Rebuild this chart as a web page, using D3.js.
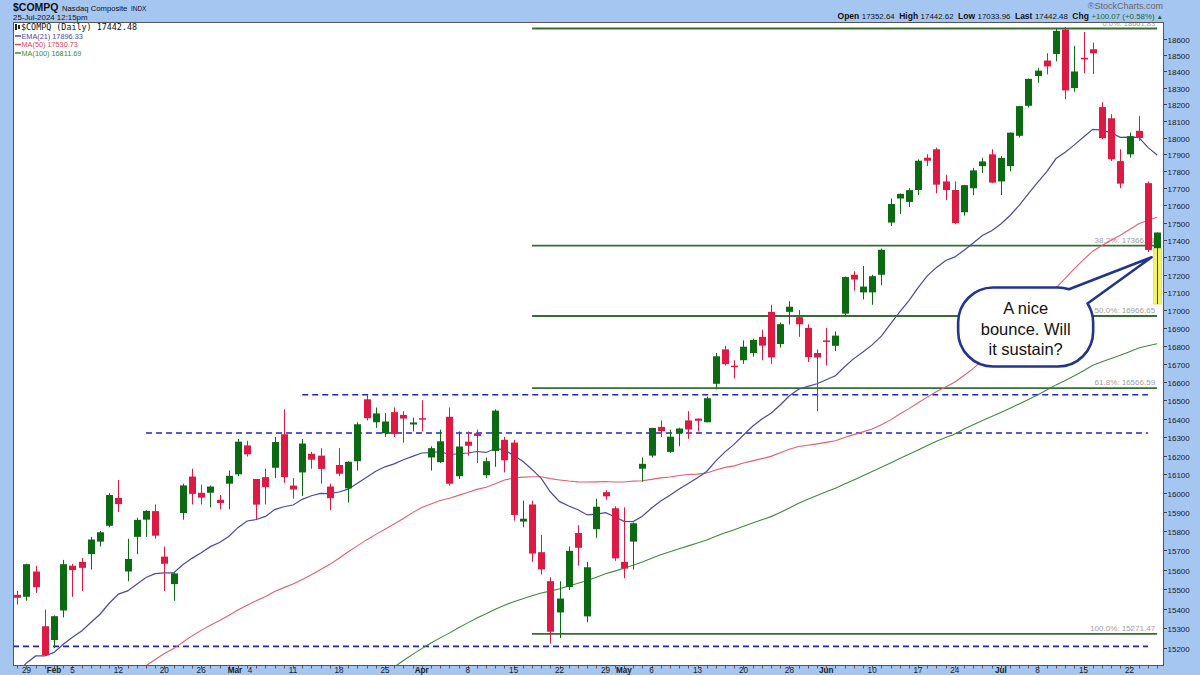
<!DOCTYPE html>
<html><head><meta charset="utf-8">
<script src="https://cdn.jsdelivr.net/npm/d3@7"></script>
<style>
html,body{margin:0;padding:0;background:#a6c6f2;}
svg{display:block;font-family:"Liberation Sans",Arial,sans-serif;}
</style></head><body>
<svg id="c" width="1200" height="675"></svg>
<script>
// ---------------- DATA ----------------
const dates = ["01-26","01-29","01-30","01-31",
"02-01","02-02","02-05","02-06","02-07","02-08","02-09","02-12","02-13","02-14","02-15","02-16","02-20","02-21","02-22","02-23","02-26","02-27","02-28","02-29",
"03-01","03-04","03-05","03-06","03-07","03-08","03-11","03-12","03-13","03-14","03-15","03-18","03-19","03-20","03-21","03-22","03-25","03-26","03-27","03-28",
"04-01","04-02","04-03","04-04","04-05","04-08","04-09","04-10","04-11","04-12","04-15","04-16","04-17","04-18","04-19","04-22","04-23","04-24","04-25","04-26","04-29","04-30",
"05-01","05-02","05-03","05-06","05-07","05-08","05-09","05-10","05-13","05-14","05-15","05-16","05-17","05-20","05-21","05-22","05-23","05-24","05-28","05-29","05-30","05-31",
"06-03","06-04","06-05","06-06","06-07","06-10","06-11","06-12","06-13","06-14","06-17","06-18","06-20","06-21","06-24","06-25","06-26","06-27","06-28",
"07-01","07-02","07-03","07-05","07-08","07-09","07-10","07-11","07-12","07-15","07-16","07-17","07-18","07-19","07-22","07-23","07-24","07-25"];

const openP = [15470,15460,15590,15310,
15240,15390,15620,15640,15680,15745,15828,15975,15590,15770,15860,15905,15667,15525,15895,16088,16002,16002,15965,16050,
16100,16255,16075,16085,16135,16315,16040,16110,16210,16200,16035,16150,16025,16170,16505,16380,16320,16435,16420,16368,
16402,16190,16165,16410,16090,16275,16320,16095,16225,16285,16270,15850,15940,15690,15540,15380,15510,15790,15360,15810,16005,15920,
15640,15745,16130,16200,16355,16220,16320,16390,16400,16380,16590,16780,16690,16720,16760,16850,16990,16810,16990,16960,16900,16760,
16830,16800,16980,17200,17100,17100,17200,17500,17640,17620,17690,17880,17930,17740,17690,17560,17700,17830,17900,
17740,17830,18010,18190,18370,18465,18505,18655,18297,18482,18534,18182,18115,17860,17900,18040,17730,17352.64];
const highP = [15490,15630,15620,15395,
15365,15650,15630,15660,15770,15800,16000,16070,15760,15870,15910,15940,15720,15585,16050,16130,16045,16040,15990,16120,
16290,16280,16075,16130,16300,16450,16080,16290,16220,16240,16050,16240,16170,16380,16530,16460,16430,16460,16440,16405,
16500,16250,16340,16460,16330,16330,16340,16190,16450,16300,16285,15960,15960,15780,15560,15540,15720,15830,15640,15970,16015,15930,
15925,15845,16190,16350,16390,16340,16350,16440,16400,16520,16760,16800,16720,16830,16840,16890,17030,16930,17050,17000,16920,16780,
16900,16880,17190,17220,17250,17200,17350,17640,17670,17700,17870,17900,17940,17780,17740,17720,17820,17880,17930,
17890,18030,18190,18355,18420,18510,18660,18671,18555,18640,18575,18212,18140,17930,18030,18130,17740,17442.62];
const lowP = [15420,15440,15480,15160,
15200,15355,15460,15490,15600,15720,15820,15900,15540,15680,15770,15760,15490,15440,15860,15940,15940,15925,15915,15915,
16090,16195,15860,15940,16080,16055,15970,15985,16130,16050,15910,16090,15950,16120,16390,16350,16300,16300,16270,16330,
16330,16120,16160,16040,16075,16200,16160,16080,16140,16110,15855,15820,15640,15575,15222,15250,15495,15620,15330,15765,15965,15645,
15555,15600,16060,16190,16300,16215,16250,16290,16330,16380,16560,16690,16620,16700,16740,16720,16700,16790,16920,16850,16710,16440,
16690,16770,16970,17110,17060,17030,17140,17480,17550,17590,17660,17830,17670,17630,17490,17540,17660,17790,17730,
17660,17800,18000,18180,18330,18380,18460,18230,18275,18387,18382,17990,17860,17700,17880,17980,17330,17033.96];
const closeP = [15455,15628,15509,15164,
15361,15628,15597,15609,15756,15794,15990,15942,15655,15859,15906,15776,15630,15580,16041,15996,15976,16035,15948,16092,
16275,16207,15939,16032,16273,16085,16019,16265,16178,16129,15973,16103,16167,16369,16402,16428,16384,16316,16400,16379,
16397,16240,16277,16050,16249,16253,16306,16170,16443,16175,15885,15865,15683,15601,15282,15451,15697,15713,15612,15928,15983,15658,
15605,15841,16156,16349,16332,16302,16346,16341,16388,16511,16742,16698,16686,16795,16833,16801,16736,16921,17019,16920,16737,16735,
16828,16857,17187,17173,17133,17192,17343,17608,17667,17689,17862,17862,17721,17689,17497,17718,17805,17858,17733,
17879,18029,18188,18353,18403,18429,18647,18283,18398,18472,18509,17996,17871,17727,18008,17997,17342,17442.48];

// EMA(21), from 01-26
const ema21 = [15075,15125,15160,15160,15178,15219,15254,15286,15329,15371,15427,15474,15490,15524,15559,15579,15583,15583,15625,15658,15687,15719,15740,15772,
15818,15853,15861,15877,15913,15928,15937,15967,15986,15999,15997,16006,16021,16053,16084,16116,16140,16156,16178,16196,
16214,16216,16222,16206,16210,16214,16222,16217,16238,16232,16200,16170,16126,16078,16006,15955,15932,15912,15885,15889,15897,15875,
15851,15850,15878,15921,15958,15989,16022,16051,16082,16115,16172,16220,16262,16311,16358,16398,16429,16474,16524,16560,16576,16590,
16612,16634,16684,16729,16766,16805,16854,16922,16990,17053,17127,17194,17242,17282,17302,17340,17382,17425,17453,
17492,17541,17600,17668,17735,17798,17875,17912,17956,18003,18049,18044,18028,18001,18002,18001,17941,17896.33];
// MA(50), from 02-15
const ma50Start = "02-15";
const ma50 = [15111,15142,15172,15197,15229,15261,15289,15315,15339,15365,
15392,15417,15440,15462,15487,15507,15526,15549,15573,15600,15627,15659,15692,15723,15754,15783,15810,15837,15866,15897,
15924,15942,15961,15973,15988,16003,16020,16031,16050,16070,16080,16085,16087,16087,16077,16070,16064,16060,16059,16060,16062,16059,
16059,16064,16066,16073,16081,16086,16094,16099,16101,16107,16123,16137,16145,16160,16172,16184,16196,16215,16234,16249,16256,16263,
16271,16280,16298,16313,16328,16344,16366,16393,16425,16454,16486,16517,16548,16573,16600,16636,16675,16719,16761,
16813,16865,16915,16967,17023,17073,17126,17179,17235,17287,17335,17367,17398,17427,17460,17493,17512,17530.73];
// MA(100), from 03-26
const ma100Start = "03-26";
const ma100 = [15104,15137,15168,
15197,15225,15251,15275,15302,15327,15352,15373,15396,15417,15435,15450,15465,15479,15489,15501,15515,15530,15544,15560,15578,15592,
15607,15622,15639,15659,15677,15692,15708,15723,15738,15754,15773,15791,15807,15825,15842,15859,15876,15898,15922,15946,15968,15987,
16007,16026,16048,16070,16092,16115,16138,16161,16184,16207,16230,16254,16277,16297,16317,16343,16367,16389,16411,
16433,16456,16480,16504,16528,16556,16584,16608,16634,16662,16692,16711,16730,16747,16767,16788,16800,16811.69];

// Fibonacci retracement (0% = 18661.83, 100% = 15271.47)
const fibPct = ["0.0%","38.2%","50.0%","61.8%","100.0%"];
const fibVal = [18661.83,17366.71,16966.65,16566.59,15271.47];
const fibFrom = "04-17", fibTo = "07-25";

// blue dashed support / resistance lines
const hLineVal = [16530,16322,15208];
const hLineFrom = ["03-12","02-15",null];
const hLineTo = ["07-24","07-24","07-24"];

// axis tick labels
const yTicks = d3.range(15200, 18601, 100);
const xTickDate = ["01-29","02-01","02-05","02-12","02-20","02-26","03-01","03-04","03-11","03-18","03-25","04-01","04-08","04-15","04-22","04-29","05-01","05-06","05-13","05-20","05-28","06-03","06-10","06-17","06-24","07-01","07-08","07-15","07-22"];
const xTickText = ["29","Feb","5","12","20","26","Mar","4","11","18","25","Apr","8","15","22","29","May","6","13","20","28","Jun","10","17","24","Jul","8","15","22"];

const legendRows = [["EMA(21) 17896.33","#4a4a9a"],["MA(50) 17530.73","#d84858"],["MA(100) 16811.69","#3a8a3a"]];
const titleParts = [["$COMPQ",10.5,"bold"],["Nasdaq Composite",7.7,"normal"],["INDX",6.5,"normal"]];
const quoteLabels = ["Open","High","Low","Last","Chg"];
const quoteValues = ["17352.64","17442.62","17033.96","17442.48","+100.07 (+0.58%)"];
const calloutText = ["A nice","bounce. Will","it sustain?"];

// ---------------- LAYOUT ----------------
const svg = d3.select("#c");
const L = 13, R = 1164, T = 22, B = 666;
// trading-day position: 01-26 is -1, 01-29 is 0
const idx = d => dates.indexOf(d) - 1;
const x = d3.scaleLinear().domain([-1, 123]).range([17.3, 1157.1]);
const y = d3.scaleLog().domain([15200, 18600]).range([648, 38.5]);
const last = dates.length - 1;
const lastDay = idx(dates[last]);

svg.append("rect").attr("width",1200).attr("height",675).attr("fill","#a6c6f2");
svg.append("rect").attr("x",L).attr("y",T).attr("width",R-L).attr("height",B-T).attr("fill","#fff");

const defs = svg.append("defs");
defs.append("clipPath").attr("id","plot").append("rect").attr("x",L).attr("y",T).attr("width",R-L).attr("height",B-T);
const g = svg.append("g").attr("clip-path","url(#plot)");

// dashed lines
hLineVal.forEach((v,k)=>{
  g.append("line").attr("x1", hLineFrom[k] ? x(idx(hLineFrom[k])) : L).attr("x2", x(idx(hLineTo[k])))
   .attr("y1", y(v)).attr("y2", y(v))
   .attr("stroke","#1f22c8").attr("stroke-width",1.6).attr("stroke-dasharray","6,4");
});

// fib lines
fibVal.forEach((v,k)=>{
  g.append("line").attr("x1", x(idx(fibFrom))).attr("x2", x(idx(fibTo)))
   .attr("y1", y(v)).attr("y2", y(v)).attr("stroke","#3a6a35").attr("stroke-width",1.8);
  g.append("text").attr("x", x(idx(fibTo))-2).attr("y", y(v)-(k===0?2:3)).attr("text-anchor","end")
   .attr("font-size",k===0?7.5:8).attr("fill","#a0a0a0").text(fibPct[k]+": "+v.toFixed(2));
});

// moving averages
function maLine(vals, start, color, w){
  const s = idx(start);
  const pts = vals.map((v,k)=>[x(s+k), y(v)]);
  g.append("path").attr("d", d3.line()(pts)).attr("fill","none").attr("stroke",color).attr("stroke-width",w);
}
maLine(ma100, ma100Start, "#3d8c3d", 1.1);
maLine(ma50, ma50Start, "#e06070", 1.1);
maLine(ema21, dates[0], "#4a4aa0", 1.2);

// yellow highlight on last candle's low
g.append("rect").attr("x", Math.round(x(lastDay))-3.5).attr("width",8)
 .attr("y", y(openP[last])).attr("height", y(lowP[last]) - y(openP[last]))
 .attr("fill","#f3f36a").attr("stroke","#d6d65a").attr("stroke-width",0.6);

// candles
const up = "#0b6a12", dn = "#dc1a44";
dates.forEach((d,k)=>{
  const c = closeP[k] >= openP[k] ? up : dn;
  const cx = Math.round(x(idx(d)))+0.5;
  g.append("line").attr("x1",cx).attr("x2",cx).attr("y1",y(highP[k])).attr("y2",y(lowP[k])).attr("stroke",c).attr("stroke-width",1);
  const top = y(Math.max(openP[k],closeP[k])), bot = y(Math.min(openP[k],closeP[k]));
  g.append("rect").attr("x",cx-3.5).attr("width",7).attr("y",top).attr("height",Math.max(1.5,bot-top)).attr("fill",c);
});

// callout
(function(){
  const tx = x(122.4), ty = y(17300);
  const cx = x(108.7), cy = y(16905);
  const w = 135, h = 79, r = 35;
  const x0 = cx-w/2, x1 = cx+w/2, y0 = cy-h/2, y1 = cy+h/2;
  const ccx = x1-r, ccy = y0+r;
  const a1 = 72*Math.PI/180, a2 = 33*Math.PI/180;
  const p2 = [ccx + r*Math.cos(a2), ccy - r*Math.sin(a2)];
  const p = d3.path();
  p.moveTo(x0+r, y0);
  p.lineTo(ccx, y0);
  p.arc(ccx, ccy, r, -Math.PI/2, -a1, false);
  p.lineTo(tx, ty);
  p.lineTo(p2[0], p2[1]);
  p.arc(ccx, ccy, r, -a2, 0, false);
  p.lineTo(x1, y1-r);
  p.arc(x1-r, y1-r, r, 0, Math.PI/2, false);
  p.lineTo(x0+r, y1);
  p.arc(x0+r, y1-r, r, Math.PI/2, Math.PI, false);
  p.lineTo(x0, y0+r);
  p.arc(x0+r, y0+r, r, Math.PI, 1.5*Math.PI, false);
  p.closePath();
  svg.append("path").attr("d", p.toString()).attr("fill","#fff").attr("stroke","#22348e").attr("stroke-width",2.6).attr("stroke-linejoin","round");
  calloutText.forEach((t,k)=>{
    svg.append("text").attr("x",cx).attr("y",cy-13+k*20.5).attr("text-anchor","middle")
      .attr("font-size",16.5).attr("fill","#111").text(t);
  });
})();

// legend (inside plot, top-left)
const lg = svg.append("g");
lg.append("rect").attr("x",15).attr("y",24).attr("width",2).attr("height",6).attr("fill","#222");
lg.append("rect").attr("x",18).attr("y",25).attr("width",2).attr("height",4).attr("fill","#222");
lg.append("text").attr("x",21).attr("y",30).attr("font-family","'DejaVu Sans Mono',monospace").attr("font-size",8.4)
  .attr("fill","#111").text("$COMPQ (Daily) "+closeP[last].toFixed(2));
legendRows.forEach((r,k)=>{
  const yy = 38.5 + k*8.5;
  lg.append("line").attr("x1",15).attr("x2",21).attr("y1",yy-2.5).attr("y2",yy-2.5).attr("stroke",r[1]).attr("stroke-width",1.5);
  lg.append("text").attr("x",21.5).attr("y",yy).attr("font-size",7.3).attr("fill",r[1]).text(r[0]);
});

// frame
svg.append("rect").attr("x",L+0.5).attr("y",T+0.5).attr("width",R-L-1).attr("height",B-T-1)
  .attr("fill","none").attr("stroke","#555").attr("stroke-width",1);

// y axis
yTicks.forEach(v=>{
  const yy = Math.round(y(v))+0.5;
  svg.append("line").attr("x1",R).attr("x2",R+3).attr("y1",yy).attr("y2",yy).attr("stroke","#444");
  svg.append("text").attr("x",R+3.5).attr("y",yy+3).attr("font-size",8).attr("fill","#1a1a1a").text(v);
});

// x axis ticks
dates.forEach(d=>{
  const xx = Math.round(x(idx(d)))+0.5;
  svg.append("line").attr("x1",xx).attr("x2",xx).attr("y1",B).attr("y2",B+2.5).attr("stroke","#555");
});
xTickDate.forEach((d,k)=>{
  const isMonth = /^[A-Z]/.test(xTickText[k]);
  let xx = x(idx(d));
  if (xTickText[k]==="Mar") xx -= 3;
  if (d==="03-04") xx += 3;
  svg.append("text").attr("x",xx).attr("y",673).attr("text-anchor","middle")
    .attr("font-size", 8.2).attr("font-weight", isMonth?"bold":"normal").attr("fill","#1a1a1a").text(xTickText[k]);
});

// header left (pieces placed one after another)
let hx = 13;
titleParts.forEach((p,k)=>{
  const t = svg.append("text").attr("x",hx).attr("y",10.5).attr("font-size",p[1]).attr("font-weight",p[2]).attr("fill","#111").text(p[0]);
  hx += t.node().getComputedTextLength() + 3.5;
});
svg.append("text").attr("x",13).attr("y",19.5).attr("font-size",7.9).attr("fill","#111").text("25-Jul-2024 12:15pm");

// header right
svg.append("text").attr("x",1163).attr("y",9).attr("text-anchor","end").attr("font-size",9).attr("fill","#666").text("\u00AEStockCharts.com");
const h2 = svg.append("text").attr("x",1163).attr("y",18.5).attr("text-anchor","end").attr("font-size",7.9).attr("fill","#111");
quoteLabels.forEach((lab,k)=>{
  h2.append("tspan").attr("font-weight","bold").attr("font-size",8.5).attr("dx", k?4.5:0).text(lab);
  h2.append("tspan").attr("dx",2.5).attr("fill", k===4?"#1a6a1a":"#111").text(quoteValues[k]);
});
h2.append("tspan").attr("dx",2).attr("font-size",6.5).attr("fill","#1a6a1a").text("\u25B2");
</script>
</body></html>
